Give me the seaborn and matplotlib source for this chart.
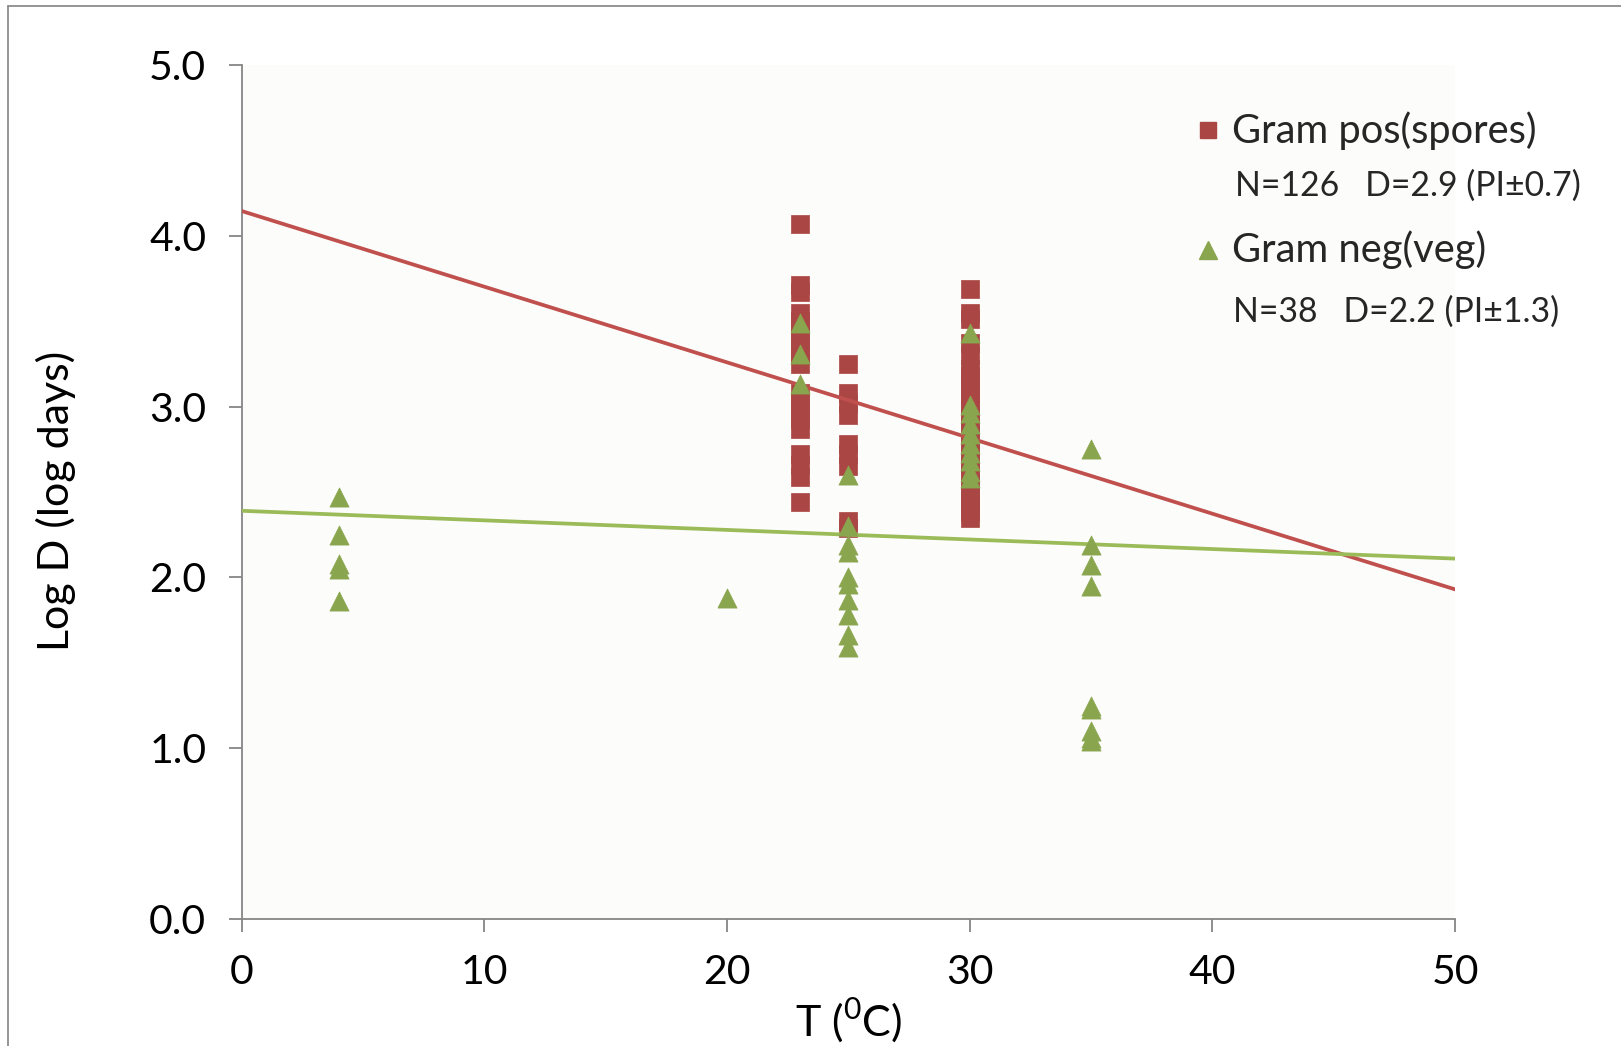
import matplotlib
matplotlib.use("Agg")
import matplotlib.pyplot as plt
import seaborn as sns
import pandas as pd
from matplotlib.lines import Line2D

# ---------------- data ----------------
pos_T = ([23] * 19) + ([25] * 9) + ([30] * 25)
pos_logD = [4.07, 3.71, 3.67, 3.55, 3.50, 3.45, 3.40, 3.35, 3.30, 3.25, 3.08, 3.03, 2.98, 2.93, 2.87, 2.72, 2.66, 2.59, 2.44,
            3.25, 3.08, 3.02, 2.95, 2.78, 2.72, 2.65, 2.33, 2.29,
            3.69, 3.55, 3.51, 3.37, 3.30, 3.18, 3.13, 3.08, 3.03, 2.98, 2.93, 2.88, 2.83, 2.78, 2.73, 2.68, 2.63, 2.58,
            2.53, 2.48, 2.43, 2.38, 2.35, 3.22, 2.45]

neg_T = [4] * 5 + [20] + [23] * 3 + [25] * 10 + [30] * 10 + [35] * 9
neg_logD = [2.47, 2.25, 2.08, 2.05, 1.86,
            1.88,
            3.49, 3.31, 3.13,
            2.60, 2.30, 2.19, 2.15, 2.00, 1.96, 1.87, 1.78, 1.66, 1.59,
            3.43, 3.01, 2.96, 2.90, 2.84, 2.78, 2.73, 2.68, 2.62, 2.58,
            2.75, 2.19, 2.07, 1.95, 1.25, 1.23, 1.10, 1.06, 1.04]

# linear trend lines (value at T=0 and T=50)
trend_T = [0, 50]
pos_trend = [4.145, 1.93]
neg_trend = [2.39, 2.11]

series_labels = ["Gram pos(spores)", "Gram neg(veg)"]
stats_labels = ["N=126   D=2.9 (PI\u00b10.7)", "N=38   D=2.2 (PI\u00b11.3)"]

x_ticks = [0, 10, 20, 30, 40, 50]
y_ticks = [0.0, 1.0, 2.0, 3.0, 4.0, 5.0]

# ---------------- style ----------------
sns.set_theme(style="white")
plt.rcParams['font.family'] = ['Lato', 'DejaVu Sans']

red_mk = "#AA4643"
green_mk = "#89A54E"
red_ln = "#C0504D"
green_ln = "#9BBB59"
axis_col = "#868686"

fig = plt.figure(figsize=(16.21, 10.46), dpi=100)
fig.patch.set_facecolor("white")
ax = fig.add_axes([241.7 / 1621, 1 - 919 / 1046, (1455 - 241.7) / 1621, (919 - 65) / 1046])
ax.set_facecolor("#FCFCFA")

df_pos = pd.DataFrame({"T": pos_T, "logD": pos_logD})
df_neg = pd.DataFrame({"T": neg_T, "logD": neg_logD})
df_tp = pd.DataFrame({"T": trend_T, "v": pos_trend})
df_tn = pd.DataFrame({"T": trend_T, "v": neg_trend})

sns.lineplot(data=df_tp, x="T", y="v", ax=ax, color=red_ln, linewidth=2.7, zorder=3)
sns.lineplot(data=df_tn, x="T", y="v", ax=ax, color=green_ln, linewidth=2.7, zorder=3)
sns.scatterplot(data=df_pos, x="T", y="logD", ax=ax, marker="s", s=165, color=red_mk,
                edgecolor=red_mk, linewidth=0.5, zorder=2)
sns.scatterplot(data=df_neg, x="T", y="logD", ax=ax, marker="^", s=190, color=green_mk,
                edgecolor=green_mk, linewidth=0.5, zorder=4)

ax.set_xlim(0, 50)
ax.set_ylim(0, 5)
ax.set_xticks(x_ticks)
ax.set_yticks(y_ticks)
ax.set_xticklabels([str(v) for v in x_ticks])
ax.set_yticklabels([f"{v:.1f}" for v in y_ticks])
for s in ["top", "right"]:
    ax.spines[s].set_visible(False)
for s in ["left", "bottom"]:
    ax.spines[s].set_color(axis_col)
    ax.spines[s].set_linewidth(1.3)
ax.tick_params(axis="both", which="major", direction="out", length=9.5, width=1.3,
               color=axis_col, labelsize=29.5, labelcolor="black", left=True, bottom=True)
ax.tick_params(axis="y", pad=16)
ax.tick_params(axis="x", pad=16)

ax.set_xlabel(r"T ($^{\mathregular{0}}$C)", fontsize=31, color="black")
ax.set_ylabel("Log D (log days)", fontsize=31, color="black")
ax.xaxis.set_label_coords(0.5, -0.09)
ax.yaxis.set_label_coords(-0.1366, 0.49)

# manual legend
def axx(px):
    return (px - 241.7) / (1455 - 241.7)

def axy(py):
    return (919 - py) / (919 - 65)

ax.plot([axx(1208)], [axy(130)], marker="s", markersize=12, color=red_mk, linestyle="none",
        transform=ax.transAxes, clip_on=False)
ax.plot([axx(1208)], [axy(250)], marker="^", markersize=13, color=green_mk, linestyle="none",
        transform=ax.transAxes, clip_on=False)
ax.text(axx(1232), axy(143), series_labels[0], transform=ax.transAxes, fontsize=28.7, va="baseline", ha="left")
ax.text(axx(1235), axy(196), stats_labels[0], transform=ax.transAxes, fontsize=24.3, va="baseline", ha="left")
ax.text(axx(1232), axy(262), series_labels[1], transform=ax.transAxes, fontsize=28.7, va="baseline", ha="left")
ax.text(axx(1233), axy(322), stats_labels[1], transform=ax.transAxes, fontsize=24.3, va="baseline", ha="left")

# outer chart border (left and top edges)
fig.add_artist(Line2D([8 / 1621, 8 / 1621], [0, 1 - 6 / 1046], transform=fig.transFigure,
                      color="#8C8C8C", linewidth=1.3))
fig.add_artist(Line2D([8 / 1621, 1], [1 - 6 / 1046, 1 - 6 / 1046], transform=fig.transFigure,
                      color="#8C8C8C", linewidth=1.3))

fig.savefig("out.png", dpi=100, facecolor="white")
